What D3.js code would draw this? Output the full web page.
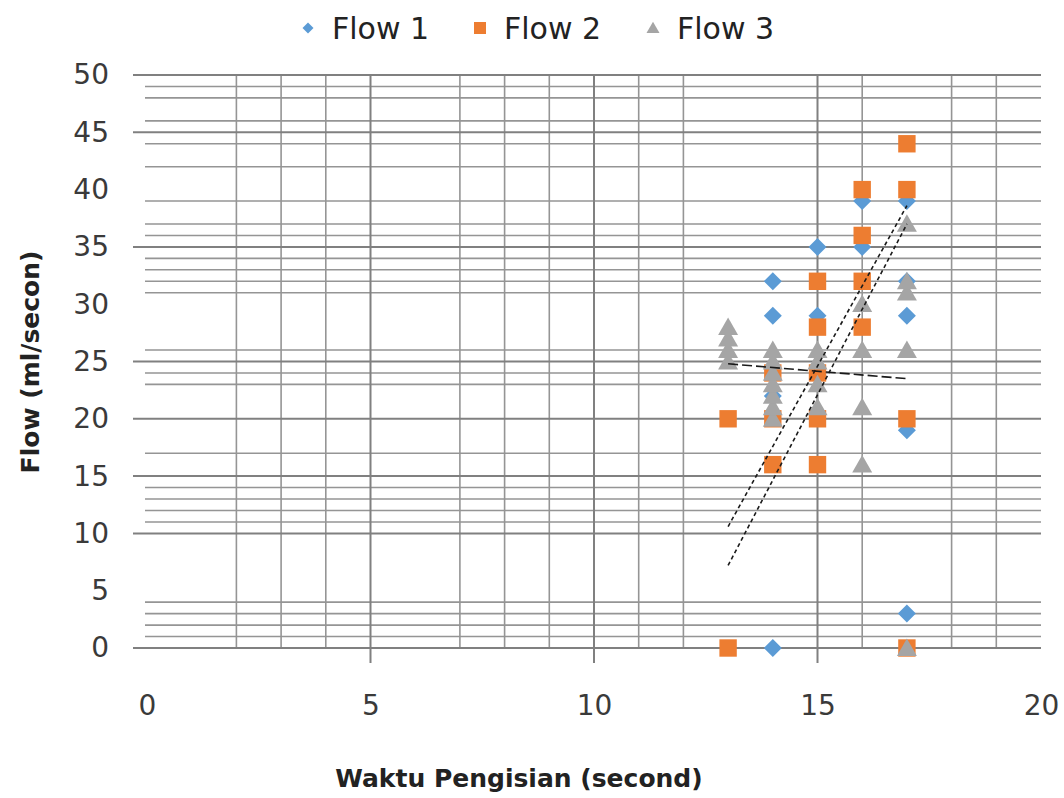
<!DOCTYPE html>
<html><head><meta charset="utf-8">
<script src="https://cdn.jsdelivr.net/npm/d3@7"></script>
<style>html,body{margin:0;padding:0;background:#fff;}svg{display:block;}</style>
</head><body>
<svg id="chart" width="1064" height="798"></svg>
<script>
// ---- data ----
const seriesNames = ["Flow 1", "Flow 2", "Flow 3"];
const flow1X = [14, 14, 14, 14, 15, 15, 16, 16, 17, 17, 17, 17, 17];
const flow1Y = [0, 22, 29, 32, 29, 35, 35, 39, 3, 19, 29, 32, 39];
const flow2X = [13, 13, 14, 14, 14, 15, 15, 15, 15, 15, 16, 16, 16, 16, 17, 17, 17, 17];
const flow2Y = [0, 20, 16, 20, 24, 16, 20, 24, 28, 32, 28, 32, 36, 40, 0, 20, 40, 44];
const flow3X = [13, 13, 13, 13, 14, 14, 14, 14, 14, 14, 14, 15, 15, 15, 15, 16, 16, 16, 16, 17, 17, 17, 17, 17];
const flow3Y = [25, 26, 27, 28, 20, 21, 22, 23, 24, 25, 26, 21, 23, 25, 26, 16, 21, 26, 30, 0, 26, 31, 32, 37];
// trend line end points [x, y]
const trend1 = [[13, 10.6], [17, 38.6]];
const trend2 = [[13, 7.2], [17, 37.0]];
const trend3 = [[13, 24.8], [17, 23.5]];
// axis ticks
const xTicks = [0, 5, 10, 15, 20];
const yTicks = [0, 5, 10, 15, 20, 25, 30, 35, 40, 45, 50];
// gridlines visible in the picture
const xMajorGrid = [5, 10, 15];
const xMinorGrid = [2, 3, 4, 7, 8, 9, 11, 12, 16, 18, 19];
const yMajorGrid = [0, 10, 15, 20, 25, 35, 45, 50];
const yMinorGrid = [1, 2, 3, 4, 11, 12, 13, 14, 17, 23, 24, 26, 31, 32, 33, 34, 36, 37, 39, 42, 44, 46, 48, 49];

// ---- drawing ----
const svg = d3.select("#chart");
const x = d3.scaleLinear().domain([0, 20]).range([147, 1041]);
const y = d3.scaleLinear().domain([0, 50]).range([648, 75]);
const colors = ["#5B9BD5", "#ED7D31", "#A5A5A5"];

const grid = svg.append("g");
grid.selectAll(".hmin").data(yMinorGrid).join("line")
  .attr("x1", x(0) - 2).attr("x2", x(20))
  .attr("y1", d => y(d)).attr("y2", d => y(d))
  .attr("stroke", "#959595").attr("stroke-width", 1.6);
grid.selectAll(".vmin").data(xMinorGrid).join("line")
  .attr("x1", d => x(d)).attr("x2", d => x(d))
  .attr("y1", y(50)).attr("y2", y(0))
  .attr("stroke", "#959595").attr("stroke-width", 1.6);
grid.selectAll(".hmaj").data(yMajorGrid).join("line")
  .attr("x1", x(0) - 14).attr("x2", x(20))
  .attr("y1", d => y(d)).attr("y2", d => y(d))
  .attr("stroke", "#808080").attr("stroke-width", 2);
grid.selectAll(".vmaj").data(xMajorGrid).join("line")
  .attr("x1", d => x(d)).attr("x2", d => x(d))
  .attr("y1", y(50)).attr("y2", y(0) + 15)
  .attr("stroke", "#808080").attr("stroke-width", 2);

// axes labels via d3 axes (lines hidden)
const yAxis = svg.append("g").attr("transform", `translate(${x(0) - 38},0)`)
  .call(d3.axisLeft(y).tickValues(yTicks).tickSize(0).tickPadding(0));
const xAxis = svg.append("g").attr("transform", `translate(0,${y(0) + 57})`)
  .call(d3.axisBottom(x).tickValues(xTicks).tickSize(0).tickPadding(0));
[yAxis, xAxis].forEach(a => {
  a.select(".domain").remove();
  a.selectAll("text").attr("font-family", "DejaVu Sans").attr("font-size", 28)
    .attr("fill", "#3a3a3a");
});
xAxis.selectAll("text").attr("dy", "0.35em");

// markers
function symPath(i, r) {
  if (i === 0) return `M0,${-r}L${r},0L0,${r}L${-r},0Z`;
  if (i === 1) return `M${-r},${-r}H${r}V${r}H${-r}Z`;
  const h = r * 1.75;
  return `M0,${-h * 0.55}L${r},${h * 0.45}L${-r},${h * 0.45}Z`;
}
const radii = [9, 8.7, 10];
const seriesData = [
  flow1X.map((v, i) => [v, flow1Y[i]]),
  flow2X.map((v, i) => [v, flow2Y[i]]),
  flow3X.map((v, i) => [v, flow3Y[i]])
];
seriesData.forEach((pts, i) => {
  svg.append("g").selectAll("path").data(pts).join("path")
    .attr("d", symPath(i, radii[i]))
    .attr("transform", d => `translate(${x(d[0])},${y(d[1])})`)
    .attr("fill", colors[i]);
});

// trend lines
const line = d3.line().x(d => x(d[0])).y(d => y(d[1]));
[[trend1, "4,3"], [trend2, "4,3"], [trend3, "10,4"]].forEach(([t, dash]) => {
  svg.append("path").attr("d", line(t)).attr("fill", "none")
    .attr("stroke", "#1a1a1a").attr("stroke-width", 1.6)
    .attr("stroke-dasharray", dash);
});

// legend
const legX = [308, 480, 653];
const lg = svg.append("g");
seriesNames.forEach((n, i) => {
  lg.append("path").attr("d", symPath(i, [5.5, 6, 6.5][i]))
    .attr("transform", `translate(${legX[i]},28)`).attr("fill", colors[i]);
  lg.append("text").attr("x", legX[i] + 24).attr("y", 28).attr("dy", "0.36em")
    .attr("font-family", "DejaVu Sans").attr("font-size", 30).attr("fill", "#222")
    .text(n);
});

// axis titles
svg.append("text").attr("x", 519).attr("y", 778).attr("dy", "0.36em")
  .attr("text-anchor", "middle").attr("font-family", "DejaVu Sans")
  .attr("font-weight", "bold").attr("font-size", 25).attr("fill", "#222")
  .text("Waktu Pengisian (second)");
svg.append("text").attr("transform", "translate(30,362) rotate(-90)")
  .attr("dy", "0.36em").attr("text-anchor", "middle").attr("font-family", "DejaVu Sans")
  .attr("font-weight", "bold").attr("font-size", 25).attr("fill", "#222")
  .text("Flow (ml/secon)");
</script>
</body></html>
